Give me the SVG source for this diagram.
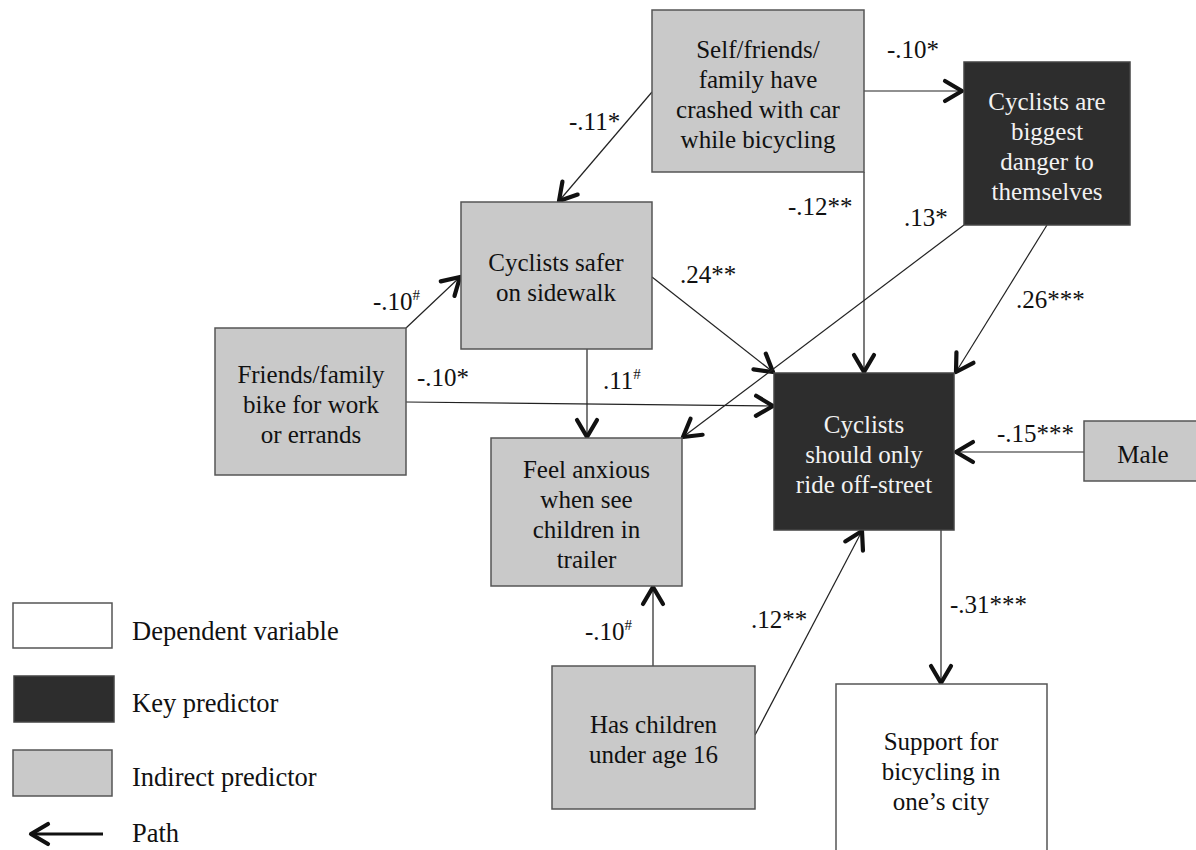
<svg xmlns="http://www.w3.org/2000/svg" width="1196" height="850" viewBox="0 0 1196 850">
<defs>
<style>
.box{stroke:#555;stroke-width:1.5}
.gray{fill:#c9c9c9}
.dark{fill:#2d2d2d;stroke:#444}
.white{fill:#fff}
.t{font-family:"Liberation Serif","Times New Roman",serif;font-size:25px;fill:#111;text-anchor:middle}
.tw{font-family:"Liberation Serif","Times New Roman",serif;font-size:25px;fill:#f2f2f2;text-anchor:middle}
.lab{font-family:"Liberation Serif","Times New Roman",serif;font-size:25px;fill:#111}
.leg{font-family:"Liberation Serif","Times New Roman",serif;font-size:26.5px;fill:#111}
.sup{font-size:15px}
.conn line{stroke:#222;stroke-width:1.2;fill:none;marker-end:url(#ah)}
</style>
<marker id="ah" markerUnits="userSpaceOnUse" markerWidth="40" markerHeight="40" viewBox="-20 -20 40 40" refX="0" refY="0" orient="auto" overflow="visible">
<path d="M-17,-10 L0,0 L-17,10" fill="none" stroke="#111" stroke-width="4.2" stroke-linecap="round" stroke-linejoin="round"/>
</marker>
</defs>
<rect width="1196" height="850" fill="#fff"/>

<g class="conn" id="connectors">
<line x1="652" y1="92" x2="559" y2="201"/>
<line x1="864" y1="91" x2="962" y2="91"/>
<line x1="864" y1="172" x2="864" y2="372"/>
<line x1="406" y1="328" x2="460" y2="277"/>
<line x1="406" y1="402" x2="773" y2="406"/>
<line x1="652" y1="277" x2="773" y2="372"/>
<line x1="587" y1="349" x2="587" y2="437"/>
<line x1="964" y1="225" x2="683" y2="437"/>
<line x1="1047" y1="225" x2="956" y2="372"/>
<line x1="1084" y1="452" x2="956" y2="452"/>
<line x1="653" y1="666" x2="653" y2="587"/>
<line x1="755" y1="735" x2="862" y2="531"/>
<line x1="941" y1="530" x2="941" y2="683"/>
</g>

<g id="self">
<rect class="box gray" x="652" y="10" width="212" height="162"/>
<text class="t" x="758" y="58">Self/friends/</text>
<text class="t" x="758" y="88">family have</text>
<text class="t" x="758" y="118">crashed with car</text>
<text class="t" x="758" y="148">while bicycling</text>
</g>
<g id="biggest">
<rect class="box dark" x="964" y="62" width="166" height="163"/>
<text class="tw" x="1047" y="110">Cyclists are</text>
<text class="tw" x="1047" y="140">biggest</text>
<text class="tw" x="1047" y="170">danger to</text>
<text class="tw" x="1047" y="200">themselves</text>
</g>
<g id="safer">
<rect class="box gray" x="461" y="202" width="191" height="147"/>
<text class="t" x="556" y="271">Cyclists safer</text>
<text class="t" x="556" y="301">on sidewalk</text>
</g>
<g id="friends">
<rect class="box gray" x="215" y="328" width="191" height="147"/>
<text class="t" x="311" y="383">Friends/family</text>
<text class="t" x="311" y="413">bike for work</text>
<text class="t" x="311" y="443">or errands</text>
</g>
<g id="anxious">
<rect class="box gray" x="491" y="438" width="191" height="148"/>
<text class="t" x="586.5" y="478">Feel anxious</text>
<text class="t" x="586.5" y="508">when see</text>
<text class="t" x="586.5" y="538">children in</text>
<text class="t" x="586.5" y="568">trailer</text>
</g>
<g id="offstreet">
<rect class="box dark" x="774" y="373" width="180" height="157"/>
<text class="tw" x="864" y="433">Cyclists</text>
<text class="tw" x="864" y="463">should only</text>
<text class="tw" x="864" y="493">ride off-street</text>
</g>
<g id="male">
<rect class="box gray" x="1084" y="421" width="125" height="60"/>
<text class="t" x="1143" y="463">Male</text>
</g>
<g id="children">
<rect class="box gray" x="552" y="666" width="203" height="143"/>
<text class="t" x="653.5" y="733">Has children</text>
<text class="t" x="653.5" y="763">under age 16</text>
</g>
<g id="support">
<rect class="box white" x="836" y="684" width="211" height="180"/>
<text class="t" x="941" y="750">Support for</text>
<text class="t" x="941" y="780">bicycling in</text>
<text class="t" x="941" y="810">one’s city</text>
</g>

<g id="labels">
<text class="lab" x="569" y="130">-.11*</text>
<text class="lab" x="887" y="58">-.10*</text>
<text class="lab" x="788" y="215">-.12**</text>
<text class="lab" x="904" y="226">.13*</text>
<text class="lab" x="680" y="283">.24**</text>
<text class="lab" x="1016" y="308">.26***</text>
<text class="lab" x="373" y="310">-.10<tspan class="sup" dy="-10">#</tspan></text>
<text class="lab" x="417" y="386">-.10*</text>
<text class="lab" x="603" y="389">.11<tspan class="sup" dy="-10">#</tspan></text>
<text class="lab" x="997" y="442">-.15***</text>
<text class="lab" x="585" y="640">-.10<tspan class="sup" dy="-10">#</tspan></text>
<text class="lab" x="751" y="628">.12**</text>
<text class="lab" x="950" y="613">-.31***</text>
</g>

<g id="legend">
<rect class="box white" x="13" y="603" width="99" height="45"/>
<text class="leg" x="132" y="640">Dependent variable</text>
<rect class="box dark" x="14" y="676" width="100" height="46"/>
<text class="leg" x="132" y="712">Key predictor</text>
<rect class="box gray" x="13" y="750" width="99" height="46"/>
<text class="leg" x="132" y="786">Indirect predictor</text>
<line x1="103" y1="834" x2="31" y2="834" stroke="#111" stroke-width="3" marker-end="url(#ah)"/>
<text class="leg" x="132" y="842">Path</text>
</g>
</svg>
